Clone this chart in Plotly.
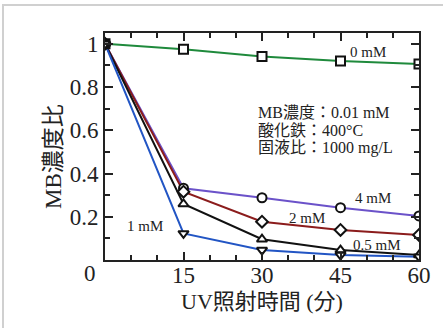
import plotly.graph_objects as go

times = [0, 15, 30, 45, 60]
s0mM = [1.0, 0.975, 0.941, 0.921, 0.907]
s4mM = [1.0, 0.332, 0.288, 0.242, 0.204]
s2mM = [1.0, 0.316, 0.177, 0.139, 0.116]
s05mM = [1.0, 0.259, 0.096, 0.046, 0.023]
s1mM = [1.0, 0.123, 0.046, 0.023, 0.015]

series = [
    ("0 mM", s0mM, "#1f8a3c", "square"),
    ("4 mM", s4mM, "#6b52c9", "circle"),
    ("2 mM", s2mM, "#8b1c1c", "diamond"),
    ("0.5 mM", s05mM, "#111111", "triangle-up"),
    ("1 mM", s1mM, "#2255c4", "triangle-down"),
]

SERIF = "Liberation Serif, Times New Roman, Noto Sans CJK JP, serif"

fig = go.Figure()
for name, ys, col, sym in series:
    fig.add_trace(go.Scatter(x=times, y=ys, mode="lines", line=dict(color=col, width=2),
                             showlegend=False, hoverinfo="skip"))
for name, ys, col, sym in series:
    fig.add_trace(go.Scatter(x=times, y=ys, mode="markers",
                             marker=dict(symbol=sym, size=9, color="white",
                                         line=dict(color="#111", width=2)),
                             showlegend=False))

W, H = 443, 328
L, Rx, Ty, By = 105, 419, 33, 260

def px(x):
    return x / W

def py(y):
    return 1 - y / H

fig.update_layout(
    width=W, height=H,
    margin=dict(l=0, r=0, t=0, b=0),
    paper_bgcolor="white", plot_bgcolor="white",
    font=dict(family=SERIF, color="#222"),
    xaxis=dict(domain=[px(L), px(Rx)], range=[0, 60], tickvals=[15, 30, 45, 60], ticks="inside", ticklen=8,
               tickwidth=1.5, tickcolor="#222", showline=True, linewidth=2, linecolor="#222",
               mirror="allticks", showgrid=False, zeroline=False, automargin=False,
               tickfont=dict(size=23, family=SERIF), ticklabelstandoff=-7,
               minor=dict(dtick=5, tick0=0, ticks="inside", ticklen=5, tickcolor="#222", tickwidth=1.5)),
    yaxis=dict(domain=[py(By), py(Ty)], range=[0, 1.05], tickvals=[0.2, 0.4, 0.6, 0.8, 1.0],
               ticktext=["0.2", "0.4", "0.6", "0.8", "1"], ticks="inside", ticklen=8,
               tickwidth=1.5, tickcolor="#222", showline=True, linewidth=2, linecolor="#222",
               mirror="allticks", showgrid=False, zeroline=False, automargin=False,
               tickfont=dict(size=23, family=SERIF),
               minor=dict(dtick=0.1, tick0=0, ticks="inside", ticklen=5, tickcolor="#222", tickwidth=1.5)),
)

def note(txt, x, y, size=15, xanchor="center", angle=0):
    fig.add_annotation(x=px(x), y=py(y), xref="paper", yref="paper", text=txt, showarrow=False,
                       xanchor=xanchor, yanchor="middle", textangle=angle,
                       font=dict(size=size, family=SERIF, color="#222"))

note("0 mM", 368, 52)
note("4 mM", 373, 198)
note("2 mM", 307, 218)
note("0.5 mM", 377, 245)
note("1 mM", 145, 226)

info = ["MB濃度：0.01 mM", "酸化鉄：400°C", "固液比：1000 mg/L"]
for i, t in enumerate(info):
    note(t, 256, 112 + 18 * i, size=16, xanchor="left")

note("0", 90, 273, size=23)
note("UV照射時間 (分)", 262, 301, size=22)
note("MB濃度比", 53, 157, size=23, angle=-90)

fig.add_shape(type="rect", xref="paper", yref="paper", x0=px(3), x1=px(460), y0=py(360), y1=py(5),
              line=dict(color="#d0d0d0", width=2), fillcolor="rgba(0,0,0,0)", layer="below")

fig.write_html("out.html", config={"displayModeBar": False},
               post_script="document.body.style.margin='0';")
